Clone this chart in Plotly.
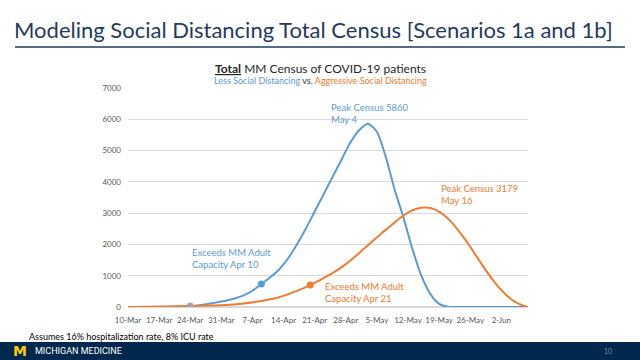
import plotly.graph_objects as go

# ---------------- data ----------------
blue_dates = ["2020-03-10", "2020-03-17", "2020-03-24", "2020-03-28", "2020-04-01", "2020-04-03",
              "2020-04-05", "2020-04-07", "2020-04-09", "2020-04-11", "2020-04-13", "2020-04-15",
              "2020-04-17", "2020-04-19", "2020-04-21", "2020-04-23", "2020-04-25", "2020-04-27",
              "2020-04-29", "2020-05-01", "2020-05-03", "2020-05-05", "2020-05-07", "2020-05-09",
              "2020-05-11", "2020-05-13", "2020-05-15", "2020-05-17", "2020-05-19", "2020-05-21",
              "2020-05-23", "2020-05-30", "2020-06-08"]
blue_values = [0, 5, 30, 100, 200, 270,
               370, 520, 735, 950, 1200, 1550,
               2000, 2500, 3050, 3600, 4150, 4700,
               5250, 5650, 5860, 5600, 4800, 3750,
               2850, 1850, 1000, 420, 100, 5,
               0, 0, 0]

orange_dates = ["2020-03-10", "2020-03-17", "2020-03-24", "2020-03-28", "2020-04-01", "2020-04-05",
                "2020-04-09", "2020-04-13", "2020-04-16", "2020-04-18", "2020-04-20", "2020-04-22",
                "2020-04-24", "2020-04-26", "2020-04-28", "2020-04-30", "2020-05-02", "2020-05-04",
                "2020-05-06", "2020-05-08", "2020-05-10", "2020-05-12", "2020-05-14", "2020-05-16",
                "2020-05-18", "2020-05-20", "2020-05-22", "2020-05-24", "2020-05-26", "2020-05-28",
                "2020-05-30", "2020-06-01", "2020-06-03", "2020-06-05", "2020-06-07", "2020-06-08"]
orange_values = [0, 5, 30, 45, 65, 115,
                 190, 310, 460, 570, 700, 840,
                 1000, 1170, 1370, 1600, 1850, 2100,
                 2350, 2580, 2820, 3020, 3140, 3179,
                 3120, 2950, 2680, 2320, 1925, 1490,
                 1075, 700, 400, 170, 40, 0]

marker_dates = ["2020-03-24", "2020-04-09", "2020-04-20"]
marker_values = [30, 735, 700]
marker_colors = ["#A5A5A5", "#5B9BD5", "#ED7D31"]

tick_dates = ["2020-03-10", "2020-03-17", "2020-03-24", "2020-03-31", "2020-04-07", "2020-04-14",
              "2020-04-21", "2020-04-28", "2020-05-05", "2020-05-12", "2020-05-19", "2020-05-26",
              "2020-06-02"]
tick_labels = ["10-Mar", "17-Mar", "24-Mar", "31-Mar", "7-Apr", "14-Apr", "21-Apr", "28-Apr",
               "5-May", "12-May", "19-May", "26-May", "2-Jun"]

BLUE = "#5B9BD5"
ORANGE = "#ED7D31"
NAVY = "#00274C"
FONT = "Lato"

# plot area in pixels
L, R, T, B = 128, 528, 88, 307
W, H = 640, 360


def px(x):
    return (x - L) / (R - L)


def py(y):
    return (B - y) / (B - T)


fig = go.Figure()
fig.add_trace(go.Scatter(x=blue_dates, y=blue_values, mode="lines",
                         line=dict(color=BLUE, width=2, shape="spline", smoothing=0.6),
                         hoverinfo="skip", showlegend=False))
fig.add_trace(go.Scatter(x=orange_dates, y=orange_values, mode="lines",
                         line=dict(color=ORANGE, width=2, shape="spline", smoothing=0.6),
                         hoverinfo="skip", showlegend=False))
fig.add_trace(go.Scatter(x=marker_dates, y=marker_values, mode="markers",
                         marker=dict(color=marker_colors, size=7),
                         hoverinfo="skip", showlegend=False))

ann = []
# slide title
ann.append(dict(text="Modeling Social Distancing Total Census [Scenarios 1a and 1b]",
                x=px(12), y=py(30), xref="paper", yref="paper", xanchor="left", yanchor="middle",
                showarrow=False, font=dict(family=FONT, size=22, color="#1F3B5F")))
# chart title
ann.append(dict(text="<b><u>Total</u></b> MM Census of COVID-19 patients",
                x=px(320), y=py(68), xref="paper", yref="paper", xanchor="center", yanchor="middle",
                showarrow=False, font=dict(family=FONT, size=12, color="#262626")))
ann.append(dict(text=f"<span style='color:{BLUE}'>Less Social Distancing</span>"
                     f"<span style='color:#404040'> vs. </span>"
                     f"<span style='color:{ORANGE}'>Aggressive Social Distancing</span>",
                x=px(320), y=py(80), xref="paper", yref="paper", xanchor="center", yanchor="middle",
                showarrow=False, font=dict(family=FONT, size=9)))
# in-chart labels
labels = [
    ("Peak Census 5860<br>May 4", 329, 113, BLUE),
    ("Peak Census 3179<br>May 16", 439, 194, ORANGE),
    ("Exceeds MM Adult<br>Capacity Apr 10", 190, 258, BLUE),
    ("Exceeds MM Adult<br>Capacity Apr 21", 323, 292, ORANGE),
]
for t, x, y, c in labels:
    ann.append(dict(text=t, x=px(x), y=py(y), xref="paper", yref="paper",
                    xanchor="left", yanchor="middle", align="left", showarrow=False,
                    font=dict(family=FONT, size=9.5, color=c)))
# footnote
ann.append(dict(text="Assumes 16% hospitalization rate, 8% ICU rate",
                x=px(27), y=py(336), xref="paper", yref="paper", xanchor="left", yanchor="middle",
                showarrow=False, font=dict(family=FONT, size=9, color="#000000")))
# footer band texts
ann.append(dict(text="<b>M</b>", x=px(11), y=py(351), xref="paper", yref="paper",
                xanchor="left", yanchor="middle", showarrow=False,
                font=dict(family="DejaVu Sans", size=14, color="#FFCB05")))
ann.append(dict(text="MICHIGAN MEDICINE", x=px(33), y=py(351), xref="paper", yref="paper",
                xanchor="left", yanchor="middle", showarrow=False,
                font=dict(family="Liberation Sans Narrow, Roboto", size=9, color="#FFFFFF")))
ann.append(dict(text="10", x=px(608), y=py(351), xref="paper", yref="paper",
                xanchor="center", yanchor="middle", showarrow=False,
                font=dict(family=FONT, size=7, color="#8090A8")))

shapes = [
    dict(type="line", xref="paper", yref="paper", x0=px(15), x1=px(625), y0=py(47), y1=py(47),
         line=dict(color="#1F3B5F", width=1.5)),
    dict(type="rect", xref="paper", yref="paper", x0=px(0), x1=px(640), y0=py(342), y1=py(361),
         line=dict(width=0), fillcolor=NAVY, layer="below"),
]

fig.update_layout(
    width=W, height=H,
    margin=dict(l=L, r=W - R, t=T, b=H - B),
    paper_bgcolor="white", plot_bgcolor="white",
    annotations=ann, shapes=shapes,
    xaxis=dict(type="date", range=["2020-03-10", "2020-06-08"], tickvals=tick_dates,
               ticktext=tick_labels, showgrid=False, zeroline=False, showline=False,
               ticklabelstandoff=7,
               tickfont=dict(family=FONT, size=8, color="#595959"), ticks="", fixedrange=True),
    yaxis=dict(range=[0, 7000], dtick=1000, showgrid=True, gridcolor="#D9D9D9", gridwidth=1,
               zeroline=True, zerolinecolor="#D9D9D9", showline=False, ticklabelstandoff=6,
               tickfont=dict(family=FONT, size=8, color="#595959"), ticks="", fixedrange=True),
)

fig.write_html("out.html", config={"displayModeBar": False},
               post_script="document.body.style.margin='0px';document.body.style.overflow='hidden';")
